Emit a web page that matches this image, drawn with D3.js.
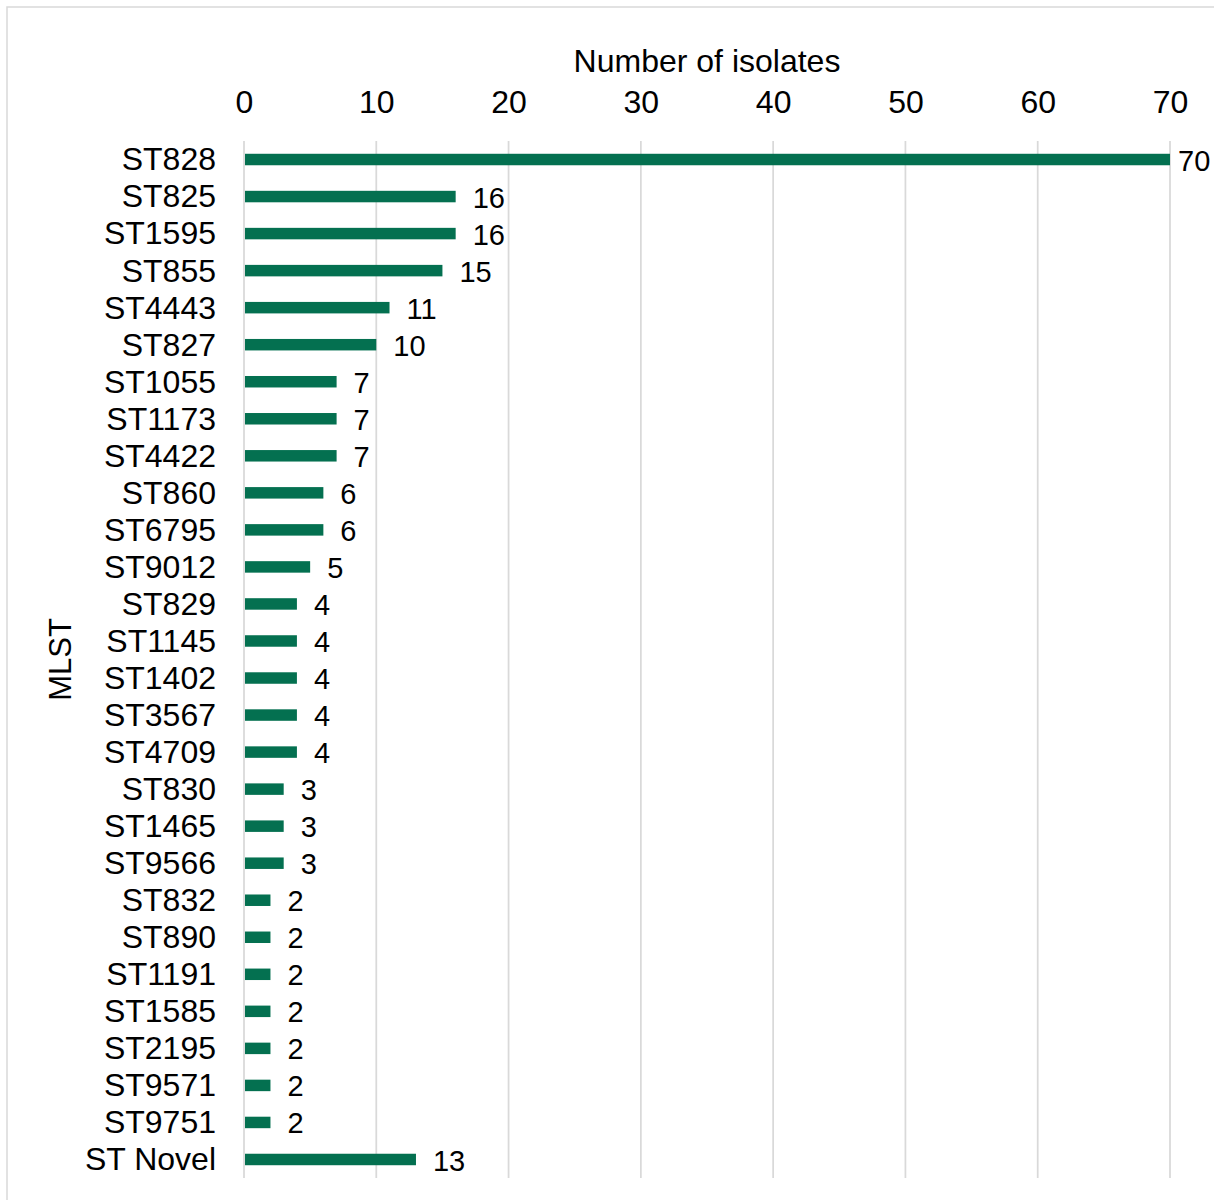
<!DOCTYPE html>
<html>
<head>
<meta charset="utf-8">
<script src="https://cdn.jsdelivr.net/npm/d3@7"></script>
<style>
  html, body { margin: 0; padding: 0; background: #ffffff; }
  svg { display: block; font-family: "Liberation Sans", Arial, sans-serif; }
</style>
</head>
<body>
<script>
const categories = ["ST828","ST825","ST1595","ST855","ST4443","ST827","ST1055","ST1173","ST4422","ST860","ST6795","ST9012","ST829","ST1145","ST1402","ST3567","ST4709","ST830","ST1465","ST9566","ST832","ST890","ST1191","ST1585","ST2195","ST9571","ST9751","ST Novel"];
const values = [70,16,16,15,11,10,7,7,7,6,6,5,4,4,4,4,4,3,3,3,2,2,2,2,2,2,2,13];
const xTicks = [0,10,20,30,40,50,60,70];
const xTitle = "Number of isolates";
const yTitle = "MLST";

const W = 1214, H = 1200;
const plot = { left: 244, right: 1170, top: 141, bottom: 1178 };
const barColor = "#047050";
const gridColor = "#d9d9d9";

const svg = d3.select("body").append("svg").attr("width", W).attr("height", H);

// chart area border
svg.append("rect")
  .attr("x", 7).attr("y", 7).attr("width", W + 20).attr("height", H + 20)
  .attr("fill", "#ffffff").attr("stroke", gridColor).attr("stroke-width", 1.5);

const x = d3.scaleLinear().domain([0, 70]).range([plot.left, plot.right]);
const y = d3.scaleBand().domain(categories).range([plot.top, plot.bottom]).paddingInner(0.69).paddingOuter(0.345);

// gridlines
svg.append("g").selectAll("line").data(xTicks).join("line")
  .attr("x1", d => x(d)).attr("x2", d => x(d))
  .attr("y1", plot.top).attr("y2", plot.bottom)
  .attr("stroke", gridColor).attr("stroke-width", 1.75);

// top axis tick labels
const xAxis = d3.axisTop(x).tickValues(xTicks).tickSize(0).tickPadding(0).tickFormat(d3.format("d"));
const gx = svg.append("g").attr("transform", `translate(0,${113})`).call(xAxis);
gx.select(".domain").remove();
gx.selectAll("text").attr("font-size", 32).attr("fill", "#000").attr("dy", 0)
  .attr("font-family", "Liberation Sans, Arial, sans-serif");

// left axis labels
const yAxis = d3.axisLeft(y).tickSize(0).tickPadding(28);
const gy = svg.append("g").attr("transform", `translate(${plot.left},0)`).call(yAxis);
gy.select(".domain").remove();
gy.selectAll("text").attr("font-size", 32).attr("fill", "#000").attr("dy", "0.34em")
  .attr("font-family", "Liberation Sans, Arial, sans-serif");

// bars
const data = categories.map((c, i) => ({ c, v: values[i] }));
svg.append("g").selectAll("rect").data(data).join("rect")
  .attr("x", x(0) + 1)
  .attr("y", d => y(d.c))
  .attr("width", d => x(d.v) - x(0) - 1)
  .attr("height", y.bandwidth())
  .attr("fill", barColor);

// value labels
svg.append("g").selectAll("text").data(data).join("text")
  .attr("x", d => Math.min(x(d.v) + 17, W - 36))
  .attr("y", d => y(d.c) + y.bandwidth() / 2)
  .attr("dy", "0.38em")
  .attr("font-size", 29)
  .attr("fill", "#000")
  .text(d => d.v);

// axis titles
svg.append("text")
  .attr("x", (plot.left + plot.right) / 2).attr("y", 72)
  .attr("text-anchor", "middle").attr("font-size", 32).attr("fill", "#000")
  .text(xTitle);

svg.append("text")
  .attr("transform", `translate(71,${(plot.top + plot.bottom) / 2}) rotate(-90)`)
  .attr("text-anchor", "middle").attr("font-size", 31).attr("fill", "#000")
  .text(yTitle);
</script>
</body>
</html>
